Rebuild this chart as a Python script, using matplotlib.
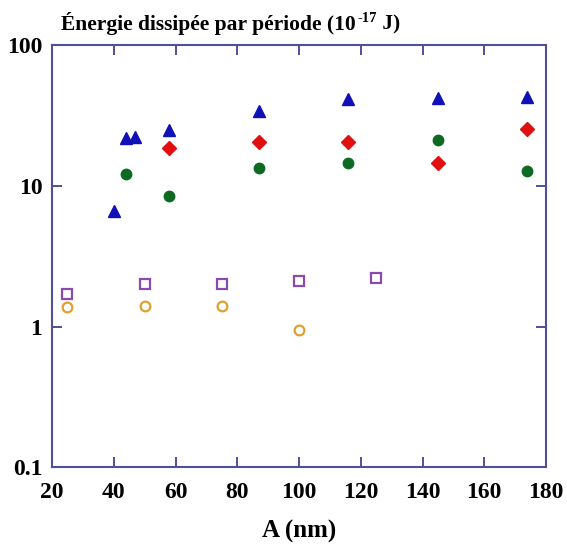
import matplotlib
matplotlib.use("Agg")
import matplotlib.pyplot as plt
from matplotlib.ticker import FixedLocator, FixedFormatter

# Amplitude A (nm) and dissipated energy per period (1e-17 J) for each series
tri_A = [40, 44, 47, 58, 87, 116, 145, 174]
tri_E = [6.6, 22.0, 22.4, 25.0, 34.2, 41.6, 42.1, 43.2]

dia_A = [58, 87, 116, 145, 174]
dia_E = [18.7, 20.7, 20.7, 14.6, 25.3]

dot_A = [44, 58, 87, 116, 145, 174]
dot_E = [12.2, 8.5, 13.4, 14.5, 21.2, 12.8]

sq_A = [25, 50, 75, 100, 125]
sq_E = [1.69, 2.0, 2.0, 2.11, 2.22]

ring_A = [25, 50, 75, 100]
ring_E = [1.37, 1.41, 1.41, 0.94]

x_ticks = [20, 40, 60, 80, 100, 120, 140, 160, 180]
y_ticks = [0.1, 1, 10, 100]
y_tick_labels = ["0.1", "1", "10", "100"]

axis_col = "#4f4f9c"
serif = ["Liberation Serif", "DejaVu Serif"]

fig = plt.figure(figsize=(5.67, 5.44), dpi=100)
ax = fig.add_axes([0.0917, 0.1415, 0.8713, 0.7749])

ax.plot(tri_A, tri_E, linestyle="none", marker="^", ms=9, color="#1010b8", mec="#1010b8")
ax.plot(dia_A, dia_E, linestyle="none", marker="D", ms=7, color="#e01010", mec="#e01010")
ax.plot(dot_A, dot_E, linestyle="none", marker="o", ms=7.5, color="#0e6a22", mec="#0e6a22")
ax.plot(sq_A, sq_E, linestyle="none", marker="s", ms=7, mfc="none", mec="#8a4bb0", mew=1.6)
ax.plot(ring_A, ring_E, linestyle="none", marker="o", ms=7, mfc="none", mec="#e0a030", mew=1.6)

ax.set_yscale("log")
ax.set_xlim(20, 180)
ax.set_ylim(0.1, 100)

ax.xaxis.set_major_locator(FixedLocator(x_ticks))
ax.set_xticklabels([str(v) for v in x_ticks])
ax.yaxis.set_major_locator(FixedLocator(y_ticks))
ax.yaxis.set_major_formatter(FixedFormatter(y_tick_labels))
ax.yaxis.set_minor_locator(FixedLocator([]))

ax.tick_params(axis="both", which="major", direction="in", length=7, width=1.4,
               color=axis_col, top=True, right=True, pad=7)
ax.tick_params(axis="x", pad=11)
for lab in ax.get_xticklabels() + ax.get_yticklabels():
    lab.set_fontfamily(serif)
    lab.set_fontweight("bold")
    lab.set_fontsize(17)

for sp in ax.spines.values():
    sp.set_color(axis_col)
    sp.set_linewidth(1.5)

ax.set_xlabel("A (nm)", fontfamily=serif, fontweight="bold", fontsize=18, labelpad=12)

# Title assembled from pieces so the exponent is a small raised "-17"
title_kw = dict(fontfamily=serif, fontweight="bold", color="black")
renderer = fig.canvas.get_renderer()
x0, y0 = 0.108, 0.945
t1 = fig.text(x0, y0, "Énergie dissipée par période (10", fontsize=15.5,
              ha="left", va="baseline", **title_kw)
w1 = t1.get_window_extent(renderer).width / fig.bbox.width
t2 = fig.text(x0 + w1 + 0.002, y0 + 0.014, "-17", fontsize=10.5,
              ha="left", va="baseline", **title_kw)
w2 = t2.get_window_extent(renderer).width / fig.bbox.width
fig.text(x0 + w1 + 0.002 + w2, y0, " J)", fontsize=15.5,
         ha="left", va="baseline", **title_kw)

fig.savefig("out.png", dpi=100)
